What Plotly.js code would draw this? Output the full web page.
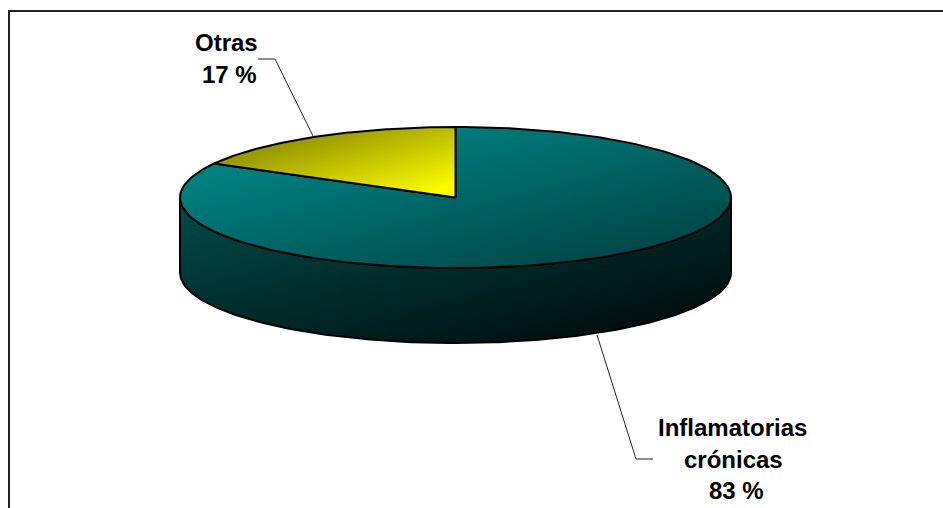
<!DOCTYPE html>
<html><head><meta charset="utf-8">
<script src="https://cdn.plot.ly/plotly-3.0.1.min.js"></script>
<style>html,body{margin:0;padding:0;background:#fff}#c{width:943px;height:508px}</style></head>
<body><div id="c"></div>
<script>
// Data
var categories = ['Otras', 'Inflamatorias crónicas'];
var values = [17, 83];
var otrasLabel = ['Otras', '17 %'];
var inflamLabel = ['Inflamatorias', 'crónicas', '83 %'];

// Drawing geometry of the tilted pie, in page pixels
var cx = 455.5, cy = 197.5, rx = 275.5, ry = 70.5, depth = 75;
var total = values[0] + values[1];
var splitAngle = -values[0] / total * 2 * Math.PI; // clockwise from 12 o'clock

function pt(a, dy) { return [cx + rx * Math.sin(a), cy - ry * Math.cos(a) + (dy || 0)]; }
function arc(a0, a1, dy) {
  var n = 160, xs = [], ys = [];
  for (var i = 0; i <= n; i++) { var p = pt(a0 + (a1 - a0) * i / n, dy); xs.push(p[0]); ys.push(p[1]); }
  return [xs, ys];
}
function slice(a0, a1) {
  var a = arc(a0, a1);
  return [[cx].concat(a[0], [cx]), [cy].concat(a[1], [cy])];
}
function band() {
  var top = arc(Math.PI / 2, 3 * Math.PI / 2, 0), bot = arc(3 * Math.PI / 2, Math.PI / 2, depth);
  return [top[0].concat(bot[0], [top[0][0]]), top[1].concat(bot[1], [top[1][0]])];
}
function poly(d, uid, name, scale) {
  return { type: 'scatter', mode: 'lines', x: d[0], y: d[1], uid: uid, name: name, fill: 'toself',
    line: { color: '#000', width: 2 }, hoverinfo: 'skip', showlegend: false,
    fillgradient: { type: 'horizontal', colorscale: scale } };
}
function leader(xs, ys) {
  return { type: 'scatter', mode: 'lines', x: xs, y: ys, line: { color: '#222', width: 1 }, hoverinfo: 'skip', showlegend: false };
}
var traces = [
  leader([258, 275, 313], [59, 59, 136]),
  leader([597, 636, 653], [335, 459, 459]),
  poly(band(), 'side', categories[1], [[0, '#004d4d'], [1, '#000505']]),
  poly(slice(0, 2 * Math.PI + splitAngle), 'main', categories[1], [[0, '#008080'], [1, '#003c3c']]),
  poly(slice(splitAngle, 0), 'small', categories[0], [[0, '#707000'], [1, '#ffff00']])
];
var font = { family: '"Liberation Sans", Arial, sans-serif', size: 24, color: '#000' };
function lbl(t, x, y) {
  return { text: '<b>' + t + '</b>', x: x, y: y, xref: 'x', yref: 'y', showarrow: false, font: font, xanchor: 'center', yanchor: 'middle' };
}
var ann = [
  lbl(otrasLabel[0], 226, 42), lbl(otrasLabel[1], 229, 74),
  lbl(inflamLabel[0], 732, 427), lbl(inflamLabel[1], 733, 459), lbl(inflamLabel[2], 736, 490)
];
var layout = {
  width: 943, height: 508, margin: { l: 0, r: 0, t: 0, b: 0 }, paper_bgcolor: '#fff', plot_bgcolor: '#fff', showlegend: false,
  xaxis: { range: [0, 943], visible: false, fixedrange: true },
  yaxis: { range: [508, 0], visible: false, fixedrange: true },
  annotations: ann,
  shapes: [
    { type: 'path', xref: 'x', yref: 'y', path: 'M9,508 L9,11 L943,11', line: { color: '#222', width: 2 } }
  ]
};
var gd = document.getElementById('c');
// Diagonal shading: [start x, start y, end x, end y]. Plotly stores the stops reversed, so x1/y1 take the end point.
var diag = { side: [180, 197, 252, 469], main: [194, 180, 248, 391], small: [215, 127, 250, 248] };
function shade() {
  gd.querySelectorAll('linearGradient').forEach(function (g) {
    Object.keys(diag).forEach(function (k) {
      if (g.id.indexOf('scatterfill-' + k) >= 0) {
        var d = diag[k];
        g.setAttribute('gradientUnits', 'userSpaceOnUse');
        g.setAttribute('x1', d[2]); g.setAttribute('y1', d[3]); g.setAttribute('x2', d[0]); g.setAttribute('y2', d[1]);
      }
    });
  });
}
Plotly.newPlot(gd, traces, layout, { staticPlot: true, displayModeBar: false }).then(shade);
</script></body></html>
